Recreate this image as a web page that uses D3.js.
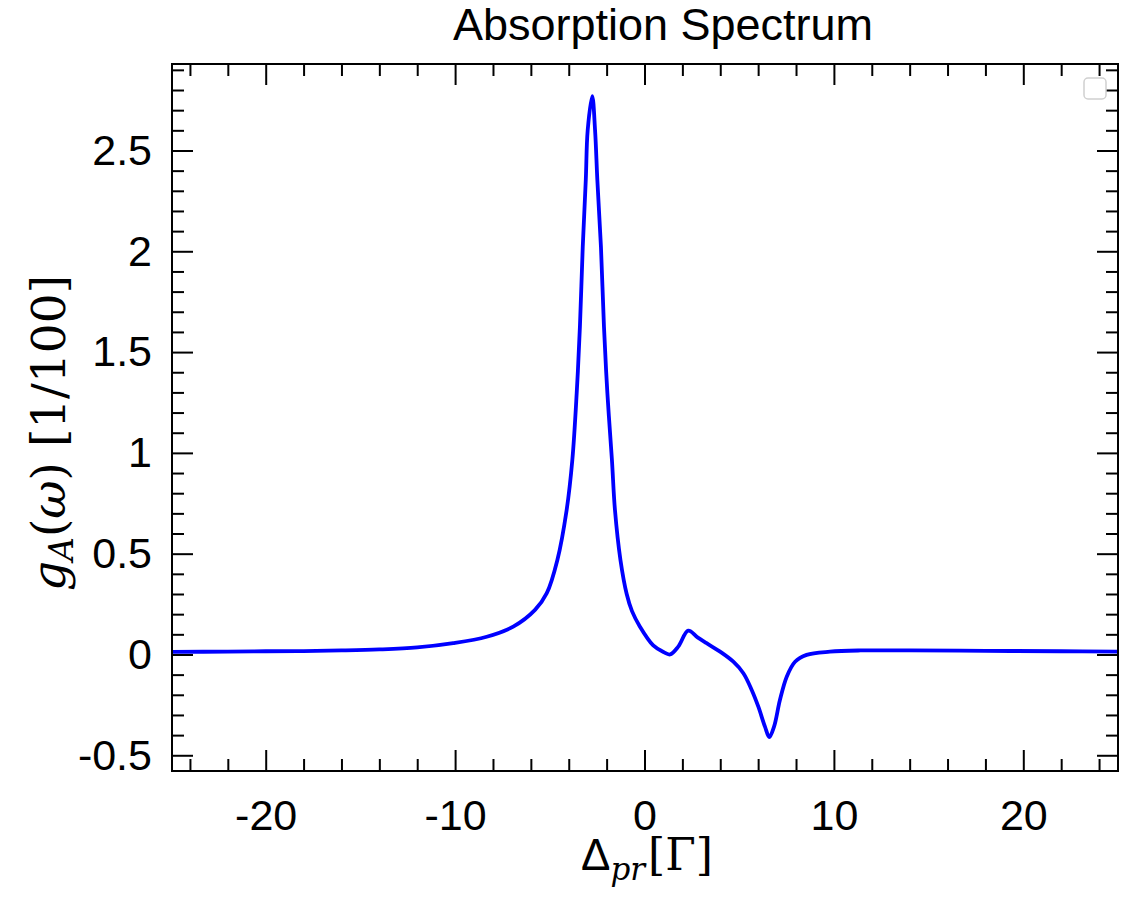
<!DOCTYPE html>
<html>
<head>
<meta charset="utf-8">
<title>Absorption Spectrum</title>
<script src="https://d3js.org/d3.v7.min.js"></script>
<style>
  body{margin:0;background:#fff}
  text{font-family:"Liberation Sans",Arial,sans-serif;fill:#000}
  .tick line{stroke:#000;stroke-width:2}
  .domain{display:none}
  .tick text{font-size:43px;font-family:"Liberation Sans",Arial,sans-serif}
  .math{font-family:"DejaVu Serif",serif}
  .frame{fill:none;stroke:#000;stroke-width:2}
  .spectrum{fill:none;stroke:#0000ff;stroke-width:3.8;stroke-linejoin:round}
</style>
</head>
<body>
<script>
// probe detuning (in units of Gamma) and absorption g_A (1/100)
var detuning=[-25,-22,-20,-18,-16,-14,-12,-10.1,-8.33,-6.93,-5.78,-5.16,-4.6,-4.11,-3.81,-3.58,-3.41,-3.26,-3.1,-3.0,
  -2.76,-2.61,-2.49,-2.3,-2.14,-1.96,-1.72,-1.56,-1.27,-0.94,-0.66,-0.24,0.46,1.0,1.35,1.78,2.31,2.8,3.28,3.99,
  4.69,5.22,5.66,6.01,6.36,6.59,6.84,7.15,7.51,7.95,8.56,9.79,11.4,14,18,22,25]
var absorption=[0.013,0.014,0.016,0.017,0.020,0.025,0.035,0.056,0.088,0.138,0.221,0.304,0.469,0.717,0.965,1.296,1.626,2.023,2.354,2.60,
  2.77,2.60,2.354,2.023,1.626,1.296,0.965,0.717,0.469,0.30,0.215,0.138,0.045,0.012,0.0,0.039,0.118,0.085,0.056,0.014,
  -0.036,-0.093,-0.176,-0.259,-0.358,-0.41,-0.358,-0.226,-0.11,-0.036,-0.002,0.014,0.020,0.020,0.018,0.016,0.014]

var xTickValues=[-20,-10,0,10,20]
var xTickLabels=["-20","-10","0","10","20"]
var yTickValues=[-0.5,0,0.5,1,1.5,2,2.5]
var yTickLabels=["-0.5","0","0.5","1","1.5","2","2.5"]
var chartTitle="Absorption Spectrum"

var W=1125,H=906
var L=172,R=1118,T=64,B=771

var svg=d3.select("body").append("svg").attr("width",W).attr("height",H)

var x=d3.scaleLinear().domain([-25,25]).range([171,1118])
var y=d3.scaleLinear().domain([-0.578,2.929]).range([B,T])

var xMinor=d3.range(-24,25,2).filter(function(v){return v%10!=0})
var yMinor=d3.range(-5,30,1).map(function(v){return v/10}).filter(function(v){return Math.abs(v*2-Math.round(v*2))>1e-6})

function fmt(vals,labels){return function(d){return labels[vals.indexOf(d)]}}

// major ticks, pointing inward, on all four sides
svg.append("g").attr("transform","translate(0,"+B+")")
  .call(d3.axisBottom(x).tickValues(xTickValues).tickSize(-21).tickPadding(28).tickFormat(fmt(xTickValues,xTickLabels)))
svg.append("g").attr("transform","translate(0,"+T+")")
  .call(d3.axisTop(x).tickValues(xTickValues).tickSize(-21).tickFormat(""))
svg.append("g").attr("transform","translate("+L+",0)")
  .call(d3.axisLeft(y).tickValues(yTickValues).tickSize(-21).tickPadding(20).tickFormat(fmt(yTickValues,yTickLabels)))
svg.append("g").attr("transform","translate("+R+",0)")
  .call(d3.axisRight(y).tickValues(yTickValues).tickSize(-21).tickFormat(""))

// minor ticks
svg.append("g").attr("transform","translate(0,"+B+")").call(d3.axisBottom(x).tickValues(xMinor).tickSize(-12).tickFormat(""))
svg.append("g").attr("transform","translate(0,"+T+")").call(d3.axisTop(x).tickValues(xMinor).tickSize(-12).tickFormat(""))
svg.append("g").attr("transform","translate("+L+",0)").call(d3.axisLeft(y).tickValues(yMinor).tickSize(-12).tickFormat(""))
svg.append("g").attr("transform","translate("+R+",0)").call(d3.axisRight(y).tickValues(yMinor).tickSize(-12).tickFormat(""))

svg.append("clipPath").attr("id","plotclip").append("rect")
  .attr("x",L).attr("y",T).attr("width",R-L).attr("height",B-T)

var line=d3.line()
  .x(function(d){return x(d[0])})
  .y(function(d){return y(d[1])})
  .curve(d3.curveCatmullRom.alpha(0.5))

svg.append("path").attr("class","spectrum").attr("clip-path","url(#plotclip)")
  .attr("d",line(d3.zip(detuning,absorption)))

svg.append("rect").attr("class","frame").attr("x",L).attr("y",T).attr("width",R-L).attr("height",B-T)

// empty legend box in the corner
svg.append("rect").attr("x",1084).attr("y",78).attr("width",22).attr("height",21).attr("rx",4)
  .attr("fill","#fff").attr("stroke","#d0d0d0").attr("stroke-width",1.5)

svg.append("text").attr("x",663).attr("y",40).attr("text-anchor","middle")
  .style("font-size","45px").text(chartTitle)

// x label: Delta_pr [Gamma]
var xl=svg.append("text").attr("x",647).attr("y",870).attr("text-anchor","middle").style("font-size","44px")
xl.append("tspan").text("Δ")
xl.append("tspan").attr("class","math").attr("font-style","italic").attr("font-size","31px").attr("dy",10).text("pr")
xl.append("tspan").attr("class","math").attr("dy",-10).attr("dx",3).text("[Γ]")

// y label: g_A(omega) [1/100]
var yl=svg.append("text").attr("class","math").attr("transform","translate(65,433) rotate(-90)")
  .attr("text-anchor","middle").style("font-size","47px")
yl.append("tspan").attr("font-style","italic").text("g")
yl.append("tspan").attr("font-style","italic").attr("font-size","33px").attr("dy",8).text("A")
yl.append("tspan").attr("dy",-8).text("(")
yl.append("tspan").attr("font-style","italic").text("ω")
yl.append("tspan").text(") [1/100]")
</script>
</body>
</html>
